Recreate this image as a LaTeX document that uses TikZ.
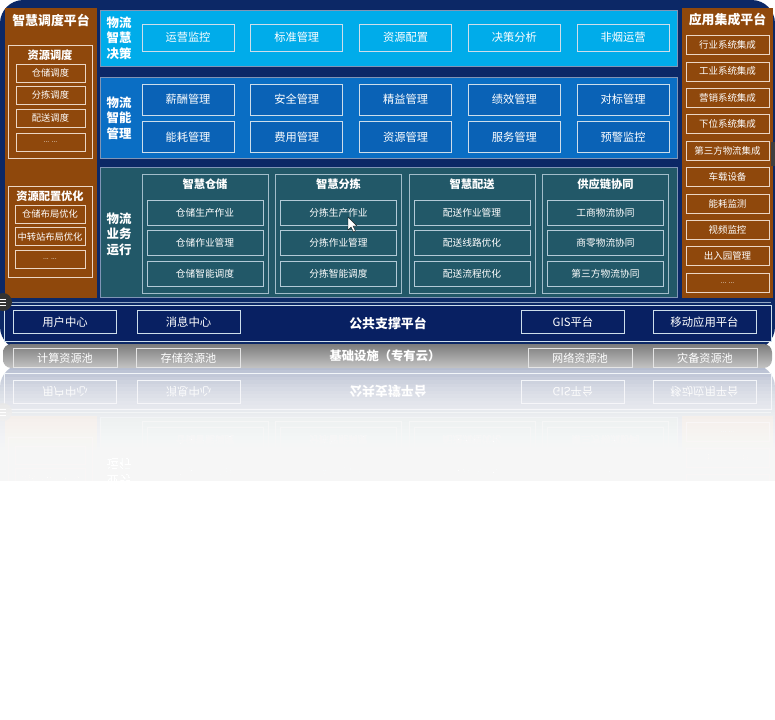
\documentclass[tikz,border=0pt]{standalone}
\usepackage{fontspec}
\setmainfont{Noto Sans CJK SC}
\usetikzlibrary{positioning,calc}

\definecolor{navybg}{RGB}{12,40,102}
\definecolor{decblue}{RGB}{0,172,234}
\definecolor{mgmtblue}{RGB}{10,110,196}
\definecolor{mgmtdark}{RGB}{10,98,182}
\definecolor{opteal}{RGB}{34,88,104}
\definecolor{platbrown}{RGB}{143,72,12}
\definecolor{sideedge}{RGB}{236,214,196}
\definecolor{pubnavy}{RGB}{8,32,98}
\definecolor{edgelight}{RGB}{205,222,235}
\definecolor{infragray}{RGB}{124,124,124}

\newcommand{\upx}{0.03cm}
\newcommand{\moredots}{{\fontsize{6}{7}\selectfont ... ...}}

\tikzstyle{cell} = [draw=edgelight, line width=0.6pt, text=white, inner sep=0pt, align=center]
\tikzstyle{decisioncell} = [cell, fill=decblue, minimum width=92*\upx, minimum height=27*\upx, font=\fontsize{9.6}{11}\selectfont]
\tikzstyle{mgmtcell} = [cell, fill=mgmtdark, minimum width=92*\upx, minimum height=31*\upx, font=\fontsize{9.6}{11}\selectfont]
\tikzstyle{groupframe} = [draw=edgelight!75!opteal, line width=0.7pt, minimum width=126*\upx, minimum height=119*\upx]
\tikzstyle{opcell} = [cell, draw=edgelight!85!opteal, fill=opteal, minimum width=116*\upx, minimum height=25*\upx, font=\fontsize{8.3}{10}\selectfont]
\tikzstyle{sideframe} = [draw=sideedge, line width=0.7pt, minimum width=84*\upx]
\tikzstyle{sidecell} = [cell, draw=sideedge, fill=platbrown, minimum width=69*\upx, minimum height=18*\upx, font=\fontsize{7.9}{9}\selectfont]
\tikzstyle{appcell} = [cell, draw=sideedge, fill=platbrown, minimum width=83*\upx, minimum height=19*\upx, font=\fontsize{8.1}{9}\selectfont]
\tikzstyle{pubcell} = [cell, fill=pubnavy, minimum width=103*\upx, minimum height=23*\upx, font=\fontsize{9.7}{11}\selectfont]
\tikzstyle{infracell} = [draw=white!80!gray, line width=0.6pt, text=white, minimum width=104*\upx, minimum height=19*\upx, inner sep=0pt, font=\fontsize{9.5}{11}\selectfont]
\tikzstyle{rowlabel} = [text=white, align=center, inner sep=0pt, font=\bfseries\fontsize{10.6}{13.2}\selectfont]
\tikzstyle{headline} = [text=white, inner sep=0pt, font=\bfseries\fontsize{11}{13}\selectfont]
\tikzstyle{subhead} = [text=white, inner sep=0pt, font=\bfseries\fontsize{9.6}{11}\selectfont]
\tikzstyle{panel} = [draw=edgelight!60!navybg, line width=0.6pt]

\newcommand{\drawboard}{%
  \draw[edgelight!70!navybg, line width=0.6pt] (4,302) -- (771,302);
  % scheduling platform
  \fill[platbrown] (5,8) rectangle (97,298);
  \node[headline] (schedHead) at (51,20) {智慧调度平台};
  \node[sideframe, minimum height=113*\upx] (resFrame) at (50,101.5) {};
  \node[subhead] (resHead) at (50,55) {资源调度};
  \foreach \y/\t [count=\i] in {73/仓储调度, 95/分拣调度, 118/配送调度, 142/\moredots}
    \node[sidecell] (res\i) at (50.5,\y) {\t};
  \node[sideframe, minimum height=91*\upx] (optFrame) at (50,231.5) {};
  \node[subhead] (optHead) at (50,196) {资源配置优化};
  \foreach \y/\t [count=\i] in {214/仓储布局优化, 236.5/中转站布局优化, 259/\moredots}
    \node[sidecell, minimum width=70*\upx] (opt\i) at (50,\y) {\t};
  % integration platform
  \fill[platbrown] (682,8) rectangle (773,298);
  \node[headline] (appHead) at (727.5,20) {应用集成平台};
  \foreach \t [count=\i from 0] in {行业系统集成, 工业系统集成, 营销系统集成, 下位系统集成, 第三方物流集成, 车载设备, 能耗监测, 视频监控, 出入园管理, \moredots}
    \node[appcell] (app\i) at (727.5,45+26.4*\i) {\t};
  % decision layer
  \draw[panel, fill=decblue] (100,10) rectangle (677,66);
  \node[rowlabel] (decLabel) at (119,38) {物流\\智慧\\决策};
  \foreach \t [count=\i from 0] in {运营监控, 标准管理, 资源配置, 决策分析, 非烟运营}
    \node[decisioncell] (dec\i) at (188+108.75*\i,37.5) {\t};
  % management layer
  \draw[panel, fill=mgmtblue] (100,77) rectangle (677,158);
  \node[rowlabel] (mgmtLabel) at (119,118) {物流\\智能\\管理};
  \foreach \a/\b [count=\i from 0] in {薪酬管理/能耗管理, 安全管理/费用管理, 精益管理/资源管理, 绩效管理/服务管理, 对标管理/预警监控} {
    \node[mgmtcell] (mgmtA\i) at (188+108.75*\i,99.5) {\a};
    \node[mgmtcell, below=6*\upx of mgmtA\i] (mgmtB\i) {\b};
  }
  % operation layer
  \draw[panel, fill=opteal] (100,167) rectangle (677,297);
  \node[rowlabel] (opLabel) at (119,234) {物流\\业务\\运行};
  \foreach \h/\a/\b/\c [count=\i from 0] in {智慧仓储/仓储生产作业/仓储作业管理/仓储智能调度, 智慧分拣/分拣生产作业/分拣作业管理/分拣智能调度, 智慧配送/配送作业管理/配送线路优化/配送流程优化, 供应链协同/工商物流协同/商零物流协同/第三方物流协同} {
    \node[groupframe] (grp\i) at (205+133.5*\i,233.5) {};
    \node[subhead] (grpHead\i) at (205+133.5*\i,184) {\h};
    \node[opcell] (opA\i) at (205+133.5*\i,212.5) {\a};
    \node[opcell, below=5*\upx of opA\i] (opB\i) {\b};
    \node[opcell, below=5*\upx of opB\i] (opC\i) {\c};
  }
  % common support platform
  \draw[edgelight, fill=pubnavy, line width=0.7pt] (4,305) rectangle (771,341);
  \foreach \t/\x [count=\i] in {用户中心/65, 消息中心/188.5, GIS平台/573, 移动应用平台/704.5}
    \node[pubcell] (pub\i) at (\x,322) {\t};
  \node[headline] (pubHead) at (388,323) {公共支撑平台};
  % screen widgets
  \fill[black!80] (3,302) circle[radius=9];
  \foreach \d in {-3,0,3}
    \draw[white, line width=0.6pt] (-1,302+\d) -- (6,302+\d);
  \fill[black!75] (771,142) rectangle (778,166);
}

\begin{document}
\begin{tikzpicture}[x=0.03cm, y=-0.03cm]
  \useasboundingbox (0,0) rectangle (775,720);
  \fill[white] (-20,-20) rectangle (795,740);
  % board
  \fill[navybg, rounded corners=0.7cm] (0,0) rectangle (775,350);
  \drawboard
  % pointer
  \draw[black, fill=white, line width=0.3pt] (348,217) -- (348,230) -- (351,227) -- (353.5,232) -- (355.5,231) -- (353,226) -- (357,226) -- cycle;
  % mirrored copy
  \begin{scope}
    \clip (-20,350) rectangle (795,480);
    \fill[navybg, rounded corners=0.7cm] (0,364) rectangle (775,500);
    \begin{scope}[yshift=-21.42cm, yscale=-1, transform shape]
      \drawboard
    \end{scope}
    \fill[white, opacity=0.7] (-20,350) rectangle (795,482);
    \foreach \k in {1,...,30}
      \fill[white, opacity=0.1] (-20,366+3.5*\k) rectangle (795,482);
  \end{scope}
  % infrastructure band
  \shade[top color=infragray, bottom color=infragray!45, rounded corners=0.25cm] (3,344) rectangle (772,368);
  \foreach \t/\x [count=\i] in {计算资源池/65, 存储资源池/188.5, 网络资源池/580, 灾备资源池/705}
    \node[infracell] (infra\i) at (\x,358) {\t};
  \node[headline, font=\bfseries\fontsize{10.5}{12}\selectfont] (infraHead) at (385,356) {基础设施（专有云）};
\end{tikzpicture}
\end{document}
